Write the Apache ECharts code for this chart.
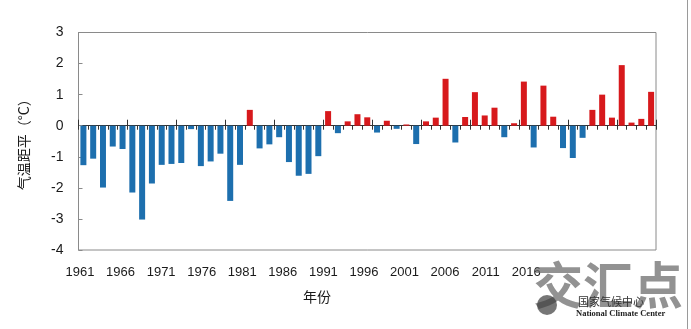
<!DOCTYPE html>
<html>
<head>
<meta charset="utf-8">
<script src="https://cdn.jsdelivr.net/npm/echarts@6/dist/echarts.min.js"></script>
<style>
html,body{margin:0;padding:0;background:#fff;}
#c{width:691px;height:329px;}
</style>
</head>
<body>
<div id="c"></div>
<script>
var years = [];
for (var y = 1961; y <= 2019; y++) years.push(String(y));
var anomalies = [
 -1.27,-1.06,-1.99,-0.67,-0.75,-2.15,-3.02,-1.86,-1.26,-1.23,
 -1.20,-0.11,-1.30,-1.15,-0.90,-2.42,-1.26,0.51,-0.73,-0.60,
 -0.37,-1.17,-1.61,-1.55,-0.98,0.47,-0.24,0.14,0.37,0.27,
 -0.22,0.16,-0.10,0.04,-0.59,0.14,0.26,1.51,-0.54,0.28,
 1.08,0.33,0.58,-0.37,0.08,1.42,-0.70,1.29,0.29,-0.72,
 -1.04,-0.39,0.51,1.00,0.26,1.95,0.10,0.22,1.09
];
var xTickLabels = [1961,1966,1971,1976,1981,1986,1991,1996,2001,2006,2011,2016];

var chart = echarts.init(document.getElementById('c'));
var txt = '#1a1a1a';
chart.setOption({
  animation:false,
  backgroundColor:'#fff',
  grid:{left:78.5,right:35,top:32.5,bottom:79,show:true,borderColor:'#8a8a8a',borderWidth:1,backgroundColor:'transparent'},
  xAxis:[
    {type:'category',data:years,position:'bottom',boundaryGap:true,
     axisLine:{onZero:true,onZeroAxisIndex:0,lineStyle:{color:'#333',width:1}},
     axisTick:{show:true,interval:0,length:4,lineStyle:{color:'#333'}},
     axisLabel:{show:false},splitLine:{show:false}},
    {type:'category',data:years,position:'bottom',boundaryGap:true,
     axisLine:{show:true,onZero:true,onZeroAxisIndex:0,lineStyle:{color:'#333',width:1}},
     axisTick:{show:true,interval:4,length:6,inside:true,lineStyle:{color:'#333'}},
     axisLabel:{show:false},splitLine:{show:false}},
    {type:'value',position:'bottom',min:1960.815,max:2032,
     axisLine:{show:false,onZero:false},axisTick:{show:false},splitLine:{show:false},
     axisLabel:{show:true,customValues:xTickLabels,margin:16,color:txt,fontSize:13,
       fontFamily:'Liberation Sans, Arial, sans-serif',formatter:function(v){return String(Math.round(v));}}}
  ],
  yAxis:{type:'value',min:-4,max:3,interval:1,
    name:'气温距平（°C）',nameLocation:'middle',nameGap:48,nameRotate:90,
    nameTextStyle:{color:txt,fontSize:14,fontFamily:'Noto Sans CJK SC, sans-serif'},
    axisLine:{show:true,lineStyle:{color:'#8a8a8a'}},
    axisTick:{show:true,inside:true,length:4,lineStyle:{color:'#8a8a8a'}},
    splitLine:{show:false},
    axisLabel:{color:txt,fontSize:14,margin:15,fontFamily:'Liberation Sans, Arial, sans-serif'}},
  series:[
    {type:'bar',xAxisIndex:0,data:anomalies,barWidth:6,
     itemStyle:{color:function(p){return p.value>=0?'#d7191c':'#1d6fae';}}}
  ],
  graphic:[
    {type:'text',left:303,top:290,style:{text:'年份',fill:txt,font:'14px "Noto Sans CJK SC", sans-serif'}},
    {type:'line',shape:{x1:687.5,y1:0,x2:687.5,y2:329},style:{stroke:'#9a9a9a',lineWidth:1}},
    {type:'text',left:533,top:260,z:10,style:{text:'交汇点',fill:'rgba(110,110,110,0.75)',font:'bold 50px "Noto Sans CJK SC", sans-serif'}},
    {type:'text',left:578,top:296,z:11,style:{text:'国家气候中心',fill:'#333',font:'11px "Noto Sans CJK SC", sans-serif'}},
    {type:'text',left:576,top:309,z:11,style:{text:'National Climate Center',fill:'#222',font:'bold 8.5px "Liberation Serif", serif'}},
    {type:'circle',shape:{cx:547,cy:305,r:10},z:11,style:{fill:'rgba(60,60,60,0.7)'}}
  ]
});
</script>
</body>
</html>
